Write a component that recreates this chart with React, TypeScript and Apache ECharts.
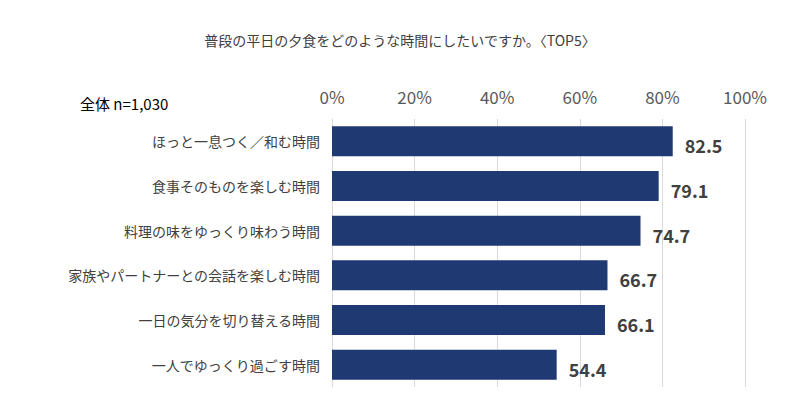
import React, { useRef, useEffect } from "react"
import * as echarts from "echarts"

const categories = [
  "ほっと一息つく／和む時間",
  "食事そのものを楽しむ時間",
  "料理の味をゆっくり味わう時間",
  "家族やパートナーとの会話を楽しむ時間",
  "一日の気分を切り替える時間",
  "一人でゆっくり過ごす時間",
]
const values = [82.5, 79.1, 74.7, 66.7, 66.1, 54.4]

export default function App() {
  const chartRef = useRef<HTMLDivElement>(null)

  useEffect(() => {
    if (!chartRef.current) return
    const chart = echarts.init(chartRef.current, null, { renderer: "svg" })
    const font = "'Noto Sans CJK JP', sans-serif"
    chart.setOption({
      animation: false,
      title: {
        text: "普段の平日の夕食をどのような時間にしたいですか。〈TOP5〉",
        left: "center",
        top: 20,
        textStyle: { fontSize: 14, fontWeight: "normal", color: "#404040", fontFamily: font },
      },
      graphic: [
        {
          type: "text",
          left: 72,
          top: 88,
          style: { text: "全体 n=1,030", fontSize: 15, fill: "#000", fontFamily: font },
        },
      ],
      grid: { left: 324, right: 47, top: 111, bottom: 16 },
      xAxis: {
        type: "value",
        position: "top",
        min: 0,
        max: 100,
        interval: 20,
        axisLabel: { formatter: "{value}%", fontSize: 17, color: "#595959", fontFamily: font, margin: 14 },
        axisLine: { show: false },
        axisTick: { show: false },
        splitLine: { lineStyle: { color: "#d9d9d9" } },
      },
      yAxis: {
        type: "category",
        inverse: true,
        data: categories,
        axisLabel: { fontSize: 14, color: "#404040", fontFamily: font, margin: 12 },
        axisLine: { lineStyle: { color: "#d9d9d9" } },
        axisTick: { show: false },
      },
      series: [
        {
          type: "bar",
          data: values,
          barWidth: 30,
          itemStyle: { color: "#1f3a73" },
          label: {
            show: true,
            position: "right",
            distance: 12,
            formatter: (p: any) => p.value.toFixed(1),
            fontSize: 18,
            fontWeight: "bold",
            color: "#404040",
            fontFamily: font,
            offset: [0, 4],
          },
        },
      ],
    })
    return () => chart.dispose()
  }, [])

  return <div ref={chartRef} style={{ width: 784, height: 395 }} />
}
